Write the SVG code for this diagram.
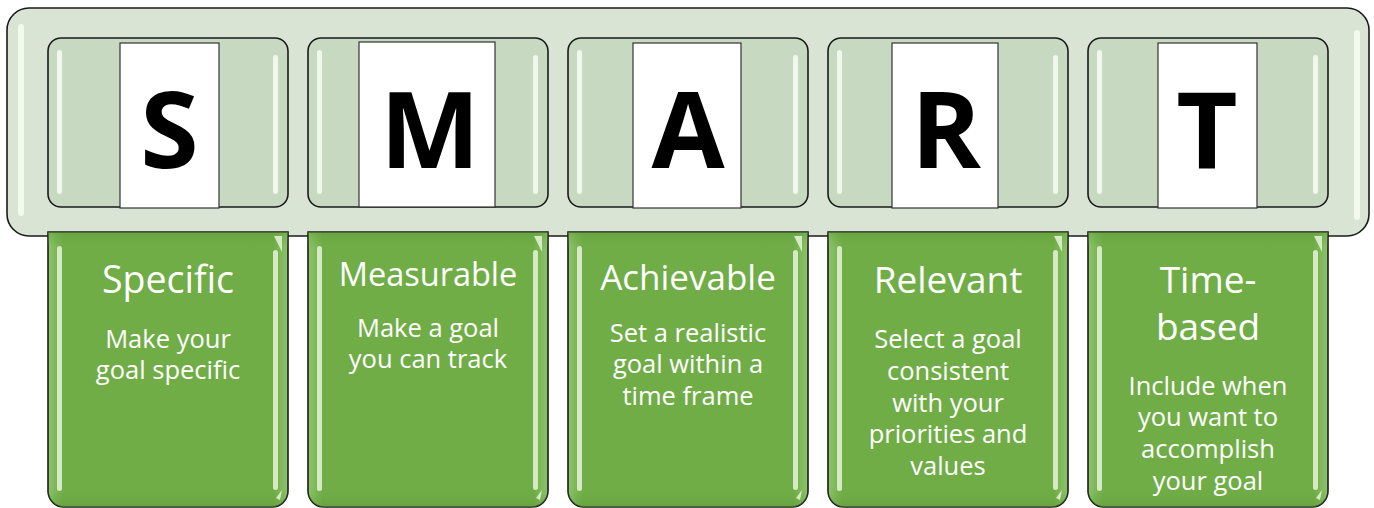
<svg xmlns="http://www.w3.org/2000/svg" width="1374" height="508" viewBox="0 0 1374 508">
<defs>
<style>
.outer{fill:#DAE4D5;stroke:#1a1a1a;stroke-width:1.6}
.inner{fill:#C7DAC1;stroke:#1a1a1a;stroke-width:1.6}
.card{fill:#FFFFFF;stroke:#333;stroke-width:1.2}
.letter{font-family:"Open Sans","Liberation Sans",sans-serif;font-weight:700;font-size:106px;fill:#000;text-anchor:middle}
.green{fill:url(#gg);stroke:#1a1a1a;stroke-width:1.6}
.hl{fill:#F4FBEF;opacity:0.9}
.hlg{fill:#E6F5D9;opacity:0.85}
.title{font-family:"Open Sans","Liberation Sans",sans-serif;fill:#fff;text-anchor:middle}
.sub{font-family:"Open Sans","Liberation Sans",sans-serif;font-size:25.5px;fill:#fff;text-anchor:middle}
</style>
<linearGradient id="gg" x1="0" y1="0" x2="1" y2="0">
<stop offset="0" stop-color="#8EC46C"/>
<stop offset="0.06" stop-color="#70AD47"/>
<stop offset="0.94" stop-color="#70AD47"/>
<stop offset="1" stop-color="#8EC46C"/>
</linearGradient>
<linearGradient id="gv" x1="0" y1="0" x2="0" y2="1">
<stop offset="0" stop-color="#5E9A38" stop-opacity="0.5"/>
<stop offset="0.06" stop-color="#70AD47" stop-opacity="0"/>
<stop offset="0.93" stop-color="#70AD47" stop-opacity="0"/>
<stop offset="1" stop-color="#5E9A38" stop-opacity="0.5"/>
</linearGradient>
</defs>

<g id="container">
<rect class="outer" x="7" y="8" width="1362" height="228" rx="22"/>
<rect class="hl" x="18" y="24" width="6" height="192" rx="3"/>
<rect class="hl" x="1354" y="30" width="6" height="190" rx="3"/>
</g>

<g id="S-box">
<rect class="inner" x="48" y="38" width="240" height="169" rx="13"/>
<rect class="hl" x="57" y="50" width="5" height="144" rx="2.5"/>
<rect class="hl" x="273" y="55" width="5" height="139" rx="2.5"/>
<rect class="card" x="120" y="43" width="99" height="165"/>
<text class="letter" x="169.5" y="168">S</text>
</g>
<g id="M-box">
<rect class="inner" x="308" y="38" width="240" height="169" rx="13"/>
<rect class="hl" x="317" y="50" width="5" height="144" rx="2.5"/>
<rect class="hl" x="533" y="55" width="5" height="139" rx="2.5"/>
<rect class="card" x="359" y="42" width="136" height="165"/>
<text class="letter" x="430" y="168">M</text>
</g>
<g id="A-box">
<rect class="inner" x="568" y="38" width="240" height="169" rx="13"/>
<rect class="hl" x="577" y="50" width="5" height="144" rx="2.5"/>
<rect class="hl" x="793" y="55" width="5" height="139" rx="2.5"/>
<rect class="card" x="633" y="43" width="108" height="165"/>
<text class="letter" x="688" y="168">A</text>
</g>
<g id="R-box">
<rect class="inner" x="828" y="38" width="240" height="169" rx="13"/>
<rect class="hl" x="837" y="50" width="5" height="144" rx="2.5"/>
<rect class="hl" x="1053" y="55" width="5" height="139" rx="2.5"/>
<rect class="card" x="892" y="43" width="106" height="165"/>
<text class="letter" x="946" y="168">R</text>
</g>
<g id="T-box">
<rect class="inner" x="1088" y="38" width="240" height="169" rx="13"/>
<rect class="hl" x="1097" y="50" width="5" height="144" rx="2.5"/>
<rect class="hl" x="1313" y="55" width="5" height="139" rx="2.5"/>
<rect class="card" x="1158" y="43" width="99" height="165"/>
<text class="letter" x="1207" y="168">T</text>
</g>

<g id="specific">
<path class="green" d="M48 232H288V491A16 16 0 0 1 272 507H64A16 16 0 0 1 48 491Z"/>
<path fill="url(#gv)" d="M48 232H288V491A16 16 0 0 1 272 507H64A16 16 0 0 1 48 491Z"/>
<rect class="hlg" x="57" y="246" width="5" height="245" rx="2.5"/>
<rect class="hlg" x="273" y="250" width="5" height="240" rx="2.5"/>
<path class="hlg" d="M274 236L282 236L282 252Z" opacity="0.5"/>
<path class="hlg" d="M276 498L282 490L280 500Z"/>
<text class="title" x="168" y="293" font-size="37.5">Specific</text>
<text class="sub" x="168" y="348">Make your</text>
<text class="sub" x="168" y="379">goal specific</text>
</g>
<g id="measurable">
<path class="green" d="M308 232H548V491A16 16 0 0 1 532 507H324A16 16 0 0 1 308 491Z"/>
<path fill="url(#gv)" d="M308 232H548V491A16 16 0 0 1 532 507H324A16 16 0 0 1 308 491Z"/>
<rect class="hlg" x="317" y="246" width="5" height="245" rx="2.5"/>
<rect class="hlg" x="533" y="250" width="5" height="240" rx="2.5"/>
<path class="hlg" d="M534 236L542 236L542 252Z" opacity="0.5"/>
<path class="hlg" d="M536 498L542 490L540 500Z"/>
<text class="title" x="428" y="286" font-size="32.5">Measurable</text>
<text class="sub" x="428" y="337">Make a goal</text>
<text class="sub" x="428" y="368">you can track</text>
</g>
<g id="achievable">
<path class="green" d="M568 232H808V491A16 16 0 0 1 792 507H584A16 16 0 0 1 568 491Z"/>
<path fill="url(#gv)" d="M568 232H808V491A16 16 0 0 1 792 507H584A16 16 0 0 1 568 491Z"/>
<rect class="hlg" x="577" y="246" width="5" height="245" rx="2.5"/>
<rect class="hlg" x="793" y="250" width="5" height="240" rx="2.5"/>
<path class="hlg" d="M794 236L802 236L802 252Z" opacity="0.5"/>
<path class="hlg" d="M796 498L802 490L800 500Z"/>
<text class="title" x="688" y="290" font-size="35">Achievable</text>
<text class="sub" x="688" y="342">Set a realistic</text>
<text class="sub" x="688" y="373">goal within a</text>
<text class="sub" x="688" y="405">time frame</text>
</g>
<g id="relevant">
<path class="green" d="M828 232H1068V491A16 16 0 0 1 1052 507H844A16 16 0 0 1 828 491Z"/>
<path fill="url(#gv)" d="M828 232H1068V491A16 16 0 0 1 1052 507H844A16 16 0 0 1 828 491Z"/>
<rect class="hlg" x="837" y="246" width="5" height="245" rx="2.5"/>
<rect class="hlg" x="1053" y="250" width="5" height="240" rx="2.5"/>
<path class="hlg" d="M1054 236L1062 236L1062 252Z" opacity="0.5"/>
<path class="hlg" d="M1056 498L1062 490L1060 500Z"/>
<text class="title" x="948" y="293" font-size="37">Relevant</text>
<text class="sub" x="948" y="348">Select a goal</text>
<text class="sub" x="948" y="380">consistent</text>
<text class="sub" x="948" y="412">with your</text>
<text class="sub" x="948" y="443">priorities and</text>
<text class="sub" x="948" y="475">values</text>
</g>
<g id="time-based">
<path class="green" d="M1088 232H1328V491A16 16 0 0 1 1312 507H1104A16 16 0 0 1 1088 491Z"/>
<path fill="url(#gv)" d="M1088 232H1328V491A16 16 0 0 1 1312 507H1104A16 16 0 0 1 1088 491Z"/>
<rect class="hlg" x="1097" y="246" width="5" height="245" rx="2.5"/>
<rect class="hlg" x="1313" y="250" width="5" height="240" rx="2.5"/>
<path class="hlg" d="M1314 236L1322 236L1322 252Z" opacity="0.5"/>
<path class="hlg" d="M1316 498L1322 490L1320 500Z"/>
<text class="title" x="1208" y="293" font-size="37">Time-</text>
<text class="title" x="1208" y="340" font-size="37">based</text>
<text class="sub" x="1208" y="395">Include when</text>
<text class="sub" x="1208" y="426">you want to</text>
<text class="sub" x="1208" y="458">accomplish</text>
<text class="sub" x="1208" y="490">your goal</text>
</g>

<g id="connectors"></g>
</svg>
